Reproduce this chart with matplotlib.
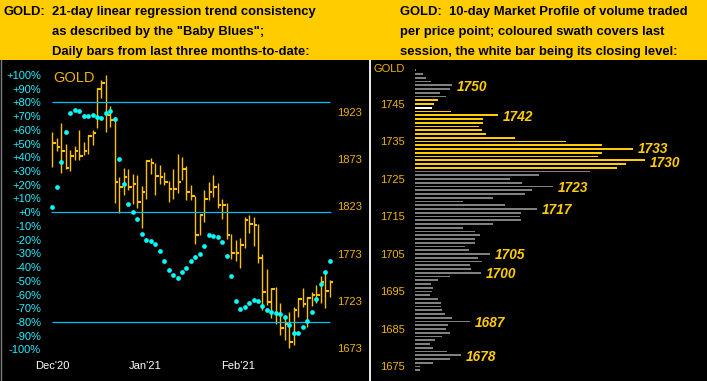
import matplotlib
matplotlib.use('Agg')
import matplotlib.pyplot as plt
from matplotlib.patches import Rectangle
from matplotlib.lines import Line2D

# ---------------- data: left panel (daily bars, price) ----------------
highs = [1902.2, 1895.1, 1911.0, 1889.1, 1882.8, 1887.0, 1903.9, 1890.9, 1898.6, 1903.9,
         1948.1, 1956.9, 1962.2, 1929.7, 1918.1, 1854.5, 1863.3, 1862.3, 1857.3, 1856.3,
         1844.6, 1872.2, 1873.9, 1869.3, 1866.9, 1859.8, 1850.3, 1862.3, 1878.2, 1875.0,
         1865.8, 1845.7, 1834.0, 1815.0, 1840.4, 1849.2, 1856.3, 1847.8, 1830.8, 1826.3,
         1793.8, 1787.4, 1789.9, 1812.1, 1813.9, 1812.1, 1804.0, 1772.6, 1756.7, 1736.9,
         1738.0, 1721.0, 1704.4, 1711.5, 1716.8, 1725.6, 1736.9, 1726.7, 1732.0, 1739.7,
         1749.6, 1753.9, 1745.0]
lows = [1865.1, 1881.7, 1858.7, 1862.6, 1860.5, 1872.2, 1872.2, 1877.4, 1878.5, 1888.1,
        1906.4, 1938.2, 1902.2, 1907.5, 1826.9, 1816.4, 1835.1, 1840.4, 1825.2, 1821.7,
        1800.5, 1830.8, 1857.3, 1835.1, 1846.4, 1845.7, 1828.0, 1830.8, 1836.8, 1851.0,
        1829.8, 1829.8, 1783.2, 1792.7, 1806.8, 1829.8, 1833.3, 1821.7, 1809.7, 1788.1,
        1767.3, 1765.2, 1758.1, 1778.6, 1794.5, 1781.0, 1763.4, 1713.3, 1718.6, 1704.4,
        1698.4, 1686.8, 1681.5, 1672.6, 1676.2, 1705.5, 1716.8, 1695.6, 1717.8, 1720.3,
        1721.0, 1715.7, 1726.7]
closes = [1890.5, 1886.3, 1881.7, 1864.0, 1876.7, 1881.7, 1876.7, 1881.7, 1897.9, 1901.1,
          1947.0, 1954.1, 1919.8, 1914.5, 1849.2, 1843.5, 1854.5, 1843.9, 1846.4, 1827.3,
          1838.6, 1871.5, 1869.3, 1855.6, 1854.5, 1849.2, 1841.8, 1841.4, 1849.2, 1863.0,
          1838.6, 1834.0, 1792.7, 1814.3, 1830.8, 1838.6, 1843.5, 1824.5, 1824.5, 1792.7,
          1774.0, 1774.0, 1782.1, 1808.6, 1804.4, 1803.3, 1768.7, 1732.7, 1722.1, 1735.5,
          1708.7, 1693.8, 1698.0, 1679.0, 1713.3, 1724.6, 1719.6, 1725.6, 1729.1, 1729.1,
          1743.3, 1733.7, 1743.3]
# "Baby Blues": 21-day linear regression trend consistency (%)
blues = [3.9, 18.5, 36.7, 58.6, 72.5, 74.7, 73.9, 70.3, 70.3, 71.0,
         69.5, 68.8, 72.0, 73.9, 67.6, 38.9, 20.2, 6.1, 0.2, -4.9,
         -15.8, -20.2, -20.9, -23.1, -28.2, -35.5, -42.1, -45.7, -47.9, -43.5,
         -40.6, -35.5, -32.6, -30.4, -24.6, -16.8, -17.3, -18.0, -21.6, -31.9,
         -46.4, -64.7, -70.5, -69.1, -66.1, -64.0, -64.7, -68.3, -71.2, -72.7,
         -73.4, -74.2, -76.4, -82.2, -88.0, -88.0, -83.6, -79.3, -72.7, -63.2,
         -52.3, -43.5, -35.5]
month_labels = ["Dec'20", "Jan'21", "Feb'21"]
month_pos = [0, 20.7, 41.6]
pct_ticks = list(range(100, -101, -10))
pct_labels = [("+%d%%" % v) if v >= 0 else ("%d%%" % v) for v in pct_ticks]
price_ticks = [1923, 1873, 1823, 1773, 1723, 1673]
bb_levels = [80, 0, -80]

# ---------------- data: right panel (market profile) ----------------
mp_levels = list(range(1674, 1755))
mp_volume = [5, 5, 18, 35, 46, 32, 18, 15, 20, 27,
             35, 31, 33, 55, 37, 30, 27, 26, 26, 22.7,
             15, 17, 18, 16, 22.7, 35, 66, 56, 55, 66.7,
             62.7, 75, 54, 50, 60, 60, 65, 60, 47.7, 77.7,
             105.7, 105, 106, 122.3, 90, 47.7, 78.3, 110, 117, 137.7,
             106.7, 95, 124, 175, 201.7, 211, 230, 182.7, 186.7, 217.7,
             186.7, 150.7, 100, 70.7, 66.7, 64, 67.7, 67.7, 83.3, 36,
             16.7, 19, 22.7, 31, 25, 35, 36.7, 16, 11, 8, 1]
session_low, session_high, session_close = 1728, 1746, 1744
mp_labelled = [1750, 1742, 1733, 1730, 1723, 1717, 1705, 1700, 1687, 1678]
mp_ticks = [1745, 1735, 1725, 1715, 1705, 1695, 1685, 1675]

# ---------------- styling ----------------
W, H = 707, 381
HDR = '#FFCC00'
BAR = '#FFC000'
DOT = '#00FFFF'
LINE = '#00BFFF'
PCT_C = '#22F0FF'
PRICE_C = '#F0B400'
GREY = '#808080'

plt.rcParams['font.family'] = ['Liberation Sans', 'DejaVu Sans']

fig = plt.figure(figsize=(W / 100, H / 100), dpi=100, facecolor='black')


def rect(x0, y0, x1, y1):
    return [x0 / W, 1 - y1 / H, (x1 - x0) / W, (y1 - y0) / H]


def ftext(x, y, s, **kw):
    fig.text(x / W, 1 - y / H, s, **kw)


# header band
fig.patches.append(Rectangle((0, 1 - 60 / H), 1, 60 / H, transform=fig.transFigure,
                             facecolor=HDR, edgecolor='none', zorder=0))
fig.lines.append(Line2D([0.5 / W, 0.5 / W], [0, 1 - 60 / H], transform=fig.transFigure,
                        color='#808080', lw=1))

hkw = dict(fontsize=9.4, fontweight='bold', color='black', va='baseline', ha='left')
ftext(4, 15, 'GOLD:', **hkw)
ftext(52, 15, '21-day linear regression trend consistency', **hkw)
ftext(52, 35, 'as described by the "Baby Blues";', **hkw)
ftext(52, 55, 'Daily bars from last three months-to-date:', **hkw)
ftext(400, 15, 'GOLD:  10-day Market Profile of volume traded', **hkw)
ftext(400, 35, 'per price point; coloured swath covers last', **hkw)
ftext(400, 55, 'session, the white bar being its closing level:', **hkw)

# ---------------- left panel ----------------
axp = fig.add_axes(rect(46, 62, 334, 358))
axp.set_facecolor('black')
axq = axp.twinx()
xs = list(range(len(highs)))
axp.vlines(xs, lows, highs, color=BAR, lw=1.0)
axp.hlines(closes, xs, [x + 0.8 for x in xs], color=BAR, lw=1.5)
axp.set_xlim(-1.41, 62.99)
axp.set_ylim(1662.4, 1975.97)
axq.set_ylim(-106.2, 109.35)

axp.yaxis.tick_right()
axp.set_yticks(price_ticks)
axp.set_yticklabels([str(p) for p in price_ticks])
axp.tick_params(axis='y', length=0, pad=2.2, labelsize=8, labelcolor=PRICE_C,
                labelright=True, labelleft=False)
axp.set_xticks(month_pos)
axp.set_xticklabels(month_labels)
axp.tick_params(axis='x', length=0, pad=2.5, labelsize=8, labelcolor='white')

axq.yaxis.tick_left()
axq.set_yticks(pct_ticks)
axq.set_yticklabels(pct_labels)
axq.tick_params(axis='y', length=0, pad=3.6, labelsize=8, labelcolor=PCT_C,
                labelleft=True, labelright=False)

axq.hlines([bb_levels[0], bb_levels[2]], 0, len(xs) - 1, color=LINE, lw=0.9)
axq.hlines(bb_levels[1], -0.4, len(xs) - 0.6, color=LINE, lw=0.9)
axq.plot(xs, blues, 'o', ms=3.4, color=DOT, mec='none')

for a in (axp, axq):
    for s in a.spines.values():
        s.set_visible(False)

ftext(53, 82, 'GOLD', fontsize=10.5, color=PRICE_C, va='baseline', ha='left')

# ---------------- right panel ----------------
axr = fig.add_axes(rect(369.5, 60, 707, 381))
axr.set_facecolor('black')
axr.set_xlim(-45.5, 292)
axr.set_ylim(1671.13, 1756.73)
colors = []
for p in mp_levels:
    if p == session_close:
        colors.append('white')
    elif session_low <= p <= session_high:
        colors.append(HDR)
    else:
        colors.append(GREY)
axr.barh(mp_levels, mp_volume, height=0.48, left=0, color=colors)
for k in ('top', 'right', 'bottom'):
    axr.spines[k].set_visible(False)
axr.spines['left'].set_color('white')
axr.spines['left'].set_linewidth(1.3)
axr.set_xticks([])
axr.set_yticks(mp_ticks)
axr.set_yticklabels([str(p) for p in mp_ticks])
axr.tick_params(axis='y', length=0, pad=-25.6, labelsize=8, labelcolor=PRICE_C)
axr.text(-10, 1754.7, 'GOLD', ha='right', va='center_baseline', fontsize=8, color=PRICE_C)
nudge = {1733: 1.2, 1730: -1.2}
for p in mp_labelled:
    v = mp_volume[mp_levels.index(p)]
    axr.annotate(str(p), xy=(v, p), xytext=(3.3, nudge.get(p, 0)), textcoords='offset points',
                 ha='left', va='center_baseline', fontsize=9.8, fontweight='bold',
                 fontstyle='italic', color=HDR)

fig.savefig('out.png', dpi=100, facecolor='black')
